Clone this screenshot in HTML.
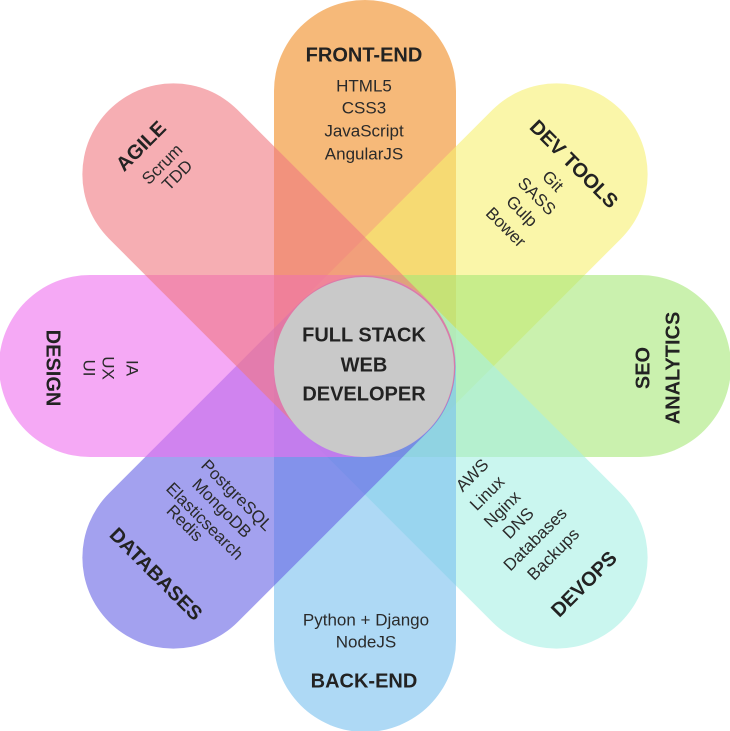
<!DOCTYPE html>
<html><head><meta charset="utf-8"><style>
html,body{margin:0;padding:0;background:#fff;}
svg{display:block;}
text{font-family:"Liberation Sans",Arial,sans-serif;fill:#2a2a2a;text-anchor:middle;dominant-baseline:middle;}
.b{font-weight:bold;font-size:20px;fill:#222;}
.i{font-size:17px;}
rect{fill-opacity:0.6;}
</style></head><body>
<svg width="730" height="731" viewBox="0 0 730 731" xmlns="http://www.w3.org/2000/svg">
<g transform="translate(365,366)">
<rect x="-91" y="-366" width="182" height="456" rx="91" fill="#f08a20" transform="rotate(0)"/>
<rect x="-91" y="-362" width="182" height="452" rx="91" fill="#f6f070" transform="rotate(45)"/>
<rect x="-91" y="-366" width="182" height="456" rx="91" fill="#a6e878" transform="rotate(90)"/>
<rect x="-91" y="-362" width="182" height="452" rx="91" fill="#a6f0e4" transform="rotate(135)"/>
<rect x="-91" y="-366" width="182" height="456" rx="91" fill="#78c0ee" transform="rotate(180)"/>
<rect x="-91" y="-362" width="182" height="452" rx="91" fill="#6662e4" transform="rotate(225)"/>
<rect x="-91" y="-366" width="182" height="456" rx="91" fill="#ee70ee" transform="rotate(270)"/>
<rect x="-91" y="-362" width="182" height="452" rx="91" fill="#f07880" transform="rotate(315)"/>
</g>
<circle cx="364" cy="367" r="90" fill="#c9c9c9"/>
<text class="b" x="364" y="336" font-size="21">FULL STACK</text>
<text class="b" x="364" y="366" font-size="21">WEB</text>
<text class="b" x="364" y="395" font-size="21">DEVELOPER</text>

<text class="b" x="364" y="56">FRONT-END</text>
<text class="i" x="364" y="87">HTML5</text>
<text class="i" x="364" y="109">CSS3</text>
<text class="i" x="364" y="132">JavaScript</text>
<text class="i" x="364" y="155">AngularJS</text>

<text class="i" x="366" y="621">Python + Django</text>
<text class="i" x="366" y="643">NodeJS</text>
<text class="b" x="364" y="682">BACK-END</text>

<text class="b" transform="translate(52,368) rotate(90)">DESIGN</text>
<text class="i" transform="translate(88,368) rotate(90)">UI</text>
<text class="i" transform="translate(107,368) rotate(90)">UX</text>
<text class="i" transform="translate(131,368) rotate(90)">IA</text>

<text class="b" transform="translate(644,368) rotate(-90)">SEO</text>
<text class="b" transform="translate(674,368) rotate(-90)">ANALYTICS</text>

<text class="b" transform="translate(142,147) rotate(-45)">AGILE</text>
<text class="i" transform="translate(163,165) rotate(-45)">Scrum</text>
<text class="i" transform="translate(178,176) rotate(-45)">TDD</text>

<text class="b" transform="translate(573,165) rotate(45)">DEV TOOLS</text>
<text class="i" transform="translate(552,182) rotate(45)">Git</text>
<text class="i" transform="translate(536,197) rotate(45)">SASS</text>
<text class="i" transform="translate(521,212) rotate(45)">Gulp</text>
<text class="i" transform="translate(505,228) rotate(45)">Bower</text>

<text class="b" transform="translate(155,575) rotate(45)">DATABASES</text>
<text class="i" transform="translate(236,496) rotate(45)">PostgreSQL</text>
<text class="i" transform="translate(221,509) rotate(45)">MongoDB</text>
<text class="i" transform="translate(204,522) rotate(45)">Elasticsearch</text>
<text class="i" transform="translate(184,524) rotate(45)">Redis</text>

<text class="b" transform="translate(585,585) rotate(-45)">DEVOPS</text>
<text class="i" transform="translate(473,476) rotate(-45)">AWS</text>
<text class="i" transform="translate(488,494) rotate(-45)">Linux</text>
<text class="i" transform="translate(503,510) rotate(-45)">Nginx</text>
<text class="i" transform="translate(519,524) rotate(-45)">DNS</text>
<text class="i" transform="translate(536,540) rotate(-45)">Databases</text>
<text class="i" transform="translate(554,555) rotate(-45)">Backups</text>
</svg>
</body></html>
